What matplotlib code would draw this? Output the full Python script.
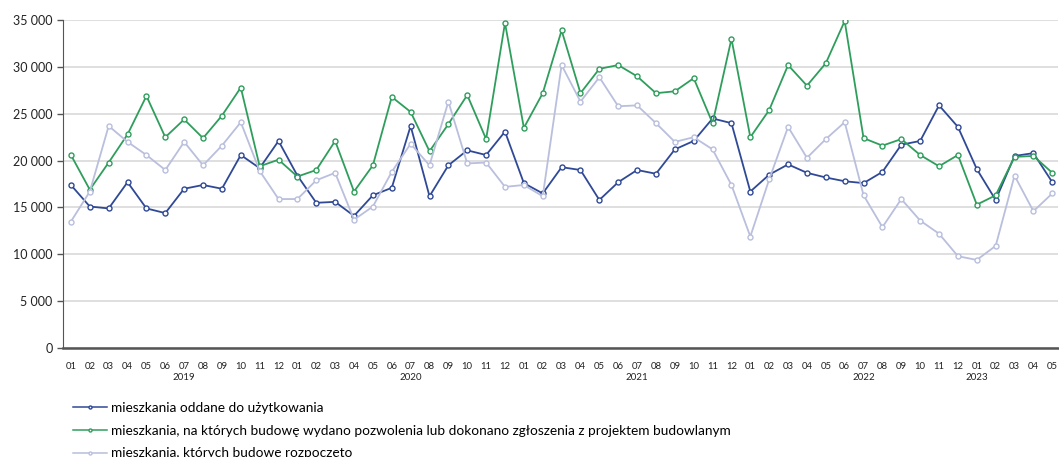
import matplotlib
matplotlib.use("Agg")
import matplotlib.pyplot as plt
from matplotlib.ticker import FuncFormatter

plt.rcParams['font.family'] = ['Lato', 'DejaVu Sans']

# months 2019-01 .. 2023-05
months = ['01', '02', '03', '04', '05', '06', '07', '08', '09', '10', '11', '12'] * 4 + ['01', '02', '03', '04', '05']
years = ['2019', '2020', '2021', '2022', '2023']
year_pos = [6, 18, 30, 42, 48]

oddane = [17400, 15100, 14900, 17700, 14900, 14400, 17000, 17400, 17000, 20600, 19200, 22100,
          18400, 15500, 15600, 14100, 16300, 17100, 23700, 16200, 19500, 21100, 20600, 23100,
          17600, 16500, 19300, 19000, 15800, 17700, 19000, 18600, 21200, 22100, 24500, 24000,
          16700, 18500, 19600, 18700, 18200, 17800, 17600, 18800, 21700, 22100, 25900, 23600,
          19100, 15800, 20500, 20800, 17700]
pozwolenia = [20600, 16900, 19800, 22800, 26900, 22500, 24400, 22400, 24800, 27800, 19400, 20100,
              18300, 19000, 22100, 16700, 19500, 26800, 25200, 21000, 23900, 27000, 22300, 34700,
              23500, 27200, 33900, 27200, 29800, 30200, 29000, 27200, 27400, 28800, 24000, 33000,
              22500, 25400, 30200, 28000, 30400, 34900, 22400, 21600, 22300, 20600, 19400, 20600,
              15300, 16300, 20400, 20500, 18700]
rozpoczete = [13500, 16700, 23700, 22000, 20600, 19000, 22000, 19500, 21600, 24100, 18900, 15900,
              15900, 17900, 18700, 13700, 15100, 18800, 21800, 19500, 26300, 19700, 19800, 17200,
              17400, 16200, 30200, 26300, 28900, 25800, 25900, 24000, 22000, 22500, 21200, 17400,
              11900, 18000, 23600, 20300, 22300, 24100, 16300, 12900, 15900, 13600, 12200, 9800,
              9400, 10900, 18400, 14600, 16500]

labels = ['mieszkania oddane do użytkowania',
          'mieszkania, na których budowę wydano pozwolenia lub dokonano zgłoszenia z projektem budowlanym',
          'mieszkania, których budowę rozpoczęto']
colors = ['#2f4996', '#2f9e5c', '#b9bfdd']

fig = plt.figure(figsize=(10.59, 4.57), dpi=100)
ax = fig.add_axes([0.0595, 0.2385, 0.9395, 0.7175])

x = list(range(len(months)))
for s, lab, c in zip([oddane, pozwolenia, rozpoczete], labels, colors):
    ax.plot(x, s, color=c, lw=1.3, marker='o', ms=3.6, mfc='white', mec=c, mew=1.0, label=lab)

ax.set_ylim(0, 35000)
ax.set_xlim(-0.42, 52.3)
ax.set_yticks(range(0, 35001, 5000))
ax.yaxis.set_major_formatter(FuncFormatter(lambda v, p: f"{int(v):,}".replace(',', ' ')))
ax.grid(axis='y', color='#d9d9d9', lw=1.2)
ax.set_axisbelow(True)
ax.set_xticks(x)
ax.set_xticklabels(months, fontsize=6.8, color='#222222')
ax.tick_params(axis='x', length=0, pad=10)
ax.tick_params(axis='y', labelsize=9, colors='#222222', length=4, color='#555555', width=1)
for sp in ['top', 'right']:
    ax.spines[sp].set_visible(False)
ax.spines['left'].set_color('#555555')
ax.spines['bottom'].set_color('#555555')
ax.spines['bottom'].set_linewidth(1.8)

for yr, p in zip(years, year_pos):
    ax.text(p, -0.09, yr, transform=ax.get_xaxis_transform(), ha='center', va='center',
            fontsize=7, color='#222222')

leg = fig.legend(loc='upper left', bbox_to_anchor=(0.069, 0.12), frameon=False, fontsize=9.8,
                 handlelength=2.5, handletextpad=0.3, labelspacing=0.78, borderpad=0, borderaxespad=0,
                 markerscale=0.6)
for h in leg.get_lines():
    h.set_linewidth(1.1)

fig.savefig('out.png', dpi=100)
